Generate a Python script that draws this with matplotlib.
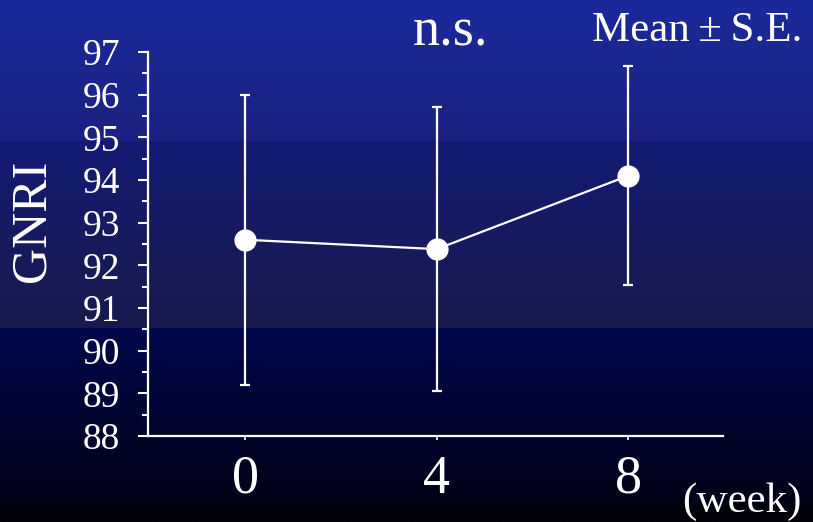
import numpy as np
import matplotlib
matplotlib.use("Agg")
import matplotlib.pyplot as plt
from matplotlib.ticker import MultipleLocator

# --- data -------------------------------------------------------------
weeks = [0, 4, 8]
gnri_mean = [92.6, 92.38, 94.1]
gnri_se = [3.4, 3.32, 2.57]
y_ticks = [88, 89, 90, 91, 92, 93, 94, 95, 96, 97]
x_tick_labels = ["0", "4", "8"]

W, H, DPI = 813, 522, 100
fig = plt.figure(figsize=(W / DPI, H / DPI), dpi=DPI)

# --- banded blue-to-black backdrop ------------------------------------
bands = [  # (start row, end row, top colour, bottom colour)
    (0, 141, (26, 42, 155), (27, 33, 128)),
    (141, 328, (20, 26, 116), (24, 27, 76)),
    (328, 505, (0, 8, 76), (2, 2, 22)),
    (505, 522, (2, 2, 12), (1, 1, 8)),
]
bg = np.zeros((H, 1, 3))
for r0, r1, c0, c1 in bands:
    t = np.linspace(0, 1, r1 - r0)[:, None]
    bg[r0:r1, 0, :] = (np.array(c0) * (1 - t) + np.array(c1) * t) / 255.0
bg_ax = fig.add_axes([0, 0, 1, 1], zorder=-10)
bg_ax.imshow(bg, aspect="auto", extent=[0, 1, 0, 1], interpolation="bilinear")
bg_ax.set_axis_off()

# --- main axes ---------------------------------------------------------
left, right, top, bottom = 148, 723, 52, 436
ax = fig.add_axes([left / W, (H - bottom) / H, (right - left) / W, (bottom - top) / H])
ax.set_facecolor("none")

serif = "Liberation Serif"
white = "white"

ax.errorbar(weeks, gnri_mean, yerr=gnri_se, color=white, linewidth=1.6,
            elinewidth=1.6, capsize=3.6, capthick=1.6, marker="o",
            markersize=15, markerfacecolor=white, markeredgecolor=white,
            zorder=3)

ax.set_xlim(-2.03, 9.98)
ax.set_ylim(88, 97)
ax.set_xticks(weeks)
ax.set_xticklabels(x_tick_labels, fontfamily=serif, fontsize=39, color=white)
ax.set_yticks(y_ticks)
ax.set_yticklabels([str(v) for v in y_ticks], fontfamily=serif, fontsize=27,
                   color=white)
ax.yaxis.set_minor_locator(MultipleLocator(0.5))

for side in ("top", "right"):
    ax.spines[side].set_visible(False)
for side in ("left", "bottom"):
    ax.spines[side].set_color(white)
    ax.spines[side].set_linewidth(1.6)

ax.tick_params(axis="y", which="major", direction="out", length=7.2,
               width=1.5, color=white, pad=13)
ax.tick_params(axis="y", which="minor", direction="out", length=4.2,
               width=1.5, color=white)
ax.tick_params(axis="x", which="major", direction="out", length=3,
               width=1.2, color=white, pad=10)

# --- annotations -------------------------------------------------------
fig.text(32 / W, 1 - 221 / H, "GNRI", rotation=90, ha="center", va="center",
         fontfamily=serif, fontsize=36, color=white)
fig.text(450 / W, 1 - 46 / H, "n.s.", ha="center", va="baseline",
         fontfamily=serif, fontsize=39, color=white)
fig.text(697 / W, 1 - 41 / H, "Mean\u2009\u00b1\u2009S.E.", ha="center",
         va="baseline", fontfamily=serif, fontsize=31, color=white)
fig.text(742 / W, 1 - 512 / H, "(week)", ha="center", va="baseline",
         fontfamily=serif, fontsize=31, color=white)

fig.savefig("out.png", dpi=DPI)
